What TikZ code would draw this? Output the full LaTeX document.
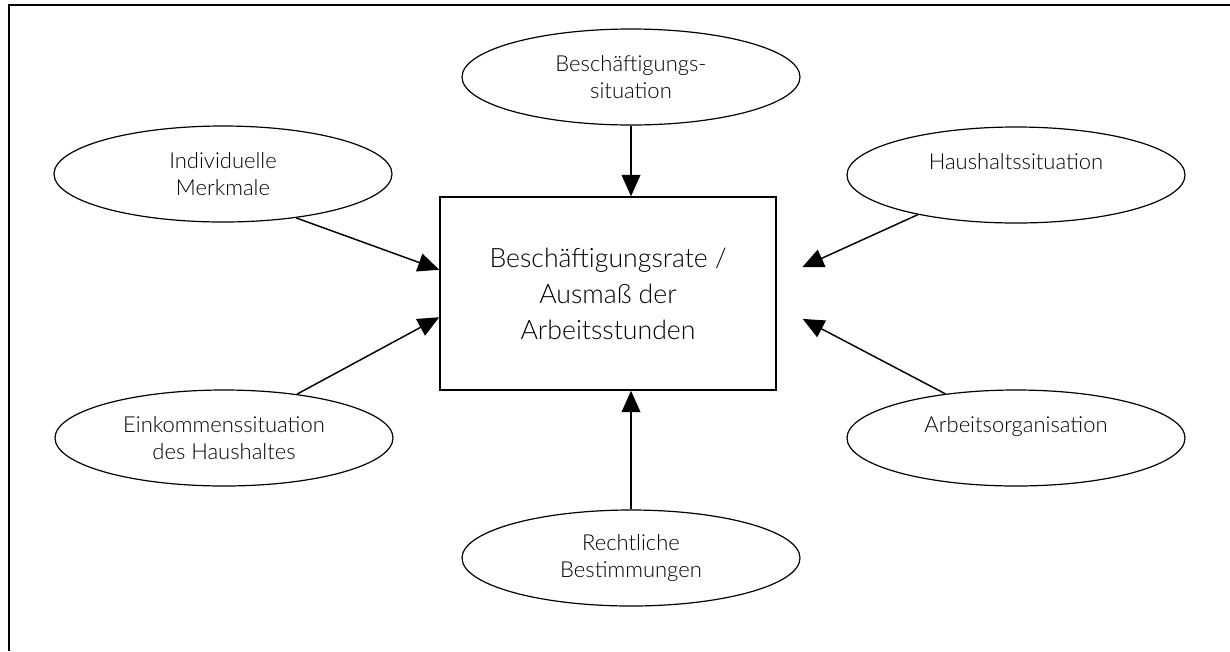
\documentclass[tikz,border=0pt]{standalone}
\usepackage{fontspec}
\setmainfont{Lato Light}
\usetikzlibrary{shapes,arrows.meta}

\begin{document}
\begin{tikzpicture}[x=0.75pt,y=-0.75pt,
factor/.style={
ellipse,
draw,
line width=0.9pt,
minimum width=253.5pt,
minimum height=72pt,
inner sep=0pt,
align=center,
font=\fontsize{16.5}{20}\selectfont
},
rate/.style={
rectangle,
draw,
line width=1.1pt,
minimum width=252pt,
minimum height=144.75pt,
align=center,
font=\fontsize{20}{27}\selectfont
},
to/.style={-{Triangle[length=16pt,width=14pt]},line width=1.1pt},
]
\useasboundingbox (0,0) rectangle (1230,651);
\draw[line width=1.3pt] (9,651) -- (9,5) -- (1230,5);
\node (rate) [rate] at (608,293.5) {Beschäftigungsrate /\\Ausmaß der\\Arbeitsstunden};
\node (besch) [factor] at (631,77) {Beschäftigungs-\\situation};
\node (indiv) [factor] at (223,174) {Individuelle\\Merkmale};
\node (haus) [factor] at (1016,175) {Haushaltssituation\\\mbox{}};
\node (eink) [factor] at (224,438) {Einkommenssituation\\des Haushaltes};
\node (orga) [factor] at (1016,438) {Arbeitsorganisation\\\mbox{}};
\node (recht) [factor] at (631,558) {Rechtliche\\Bestimmungen};
\draw[to] (besch.south) -- (besch.south |- rate.north);
\draw[to] (indiv.-31) -- (rate.172);
\draw[to] (eink.31) -- (rate.188);
\draw[to,shorten >=21pt] (haus.202) -- (rate.5);
\draw[to,shorten >=22pt] (orga.148) -- (rate.-4);
\draw[to] (recht.north) -- (recht.north |- rate.south);
\end{tikzpicture}
\end{document}
